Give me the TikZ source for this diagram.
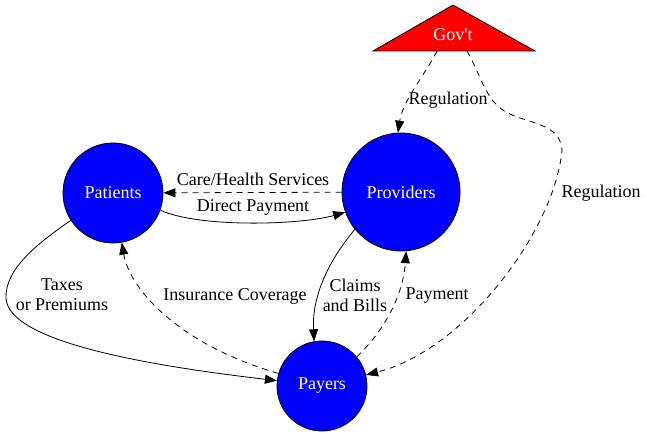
\documentclass[tikz,border=0pt]{standalone}
\usepackage{fontspec}
\setmainfont{Liberation Serif}
\usetikzlibrary{arrows.meta}

\begin{document}
\begin{tikzpicture}[x=1pt, y=-1pt, >={Triangle[length=12pt,width=9pt]},
  every node/.style={font=\rmfamily\fontsize{18}{20}\selectfont},
  party/.style={circle, draw=black, fill=blue, text=white, line width=0.8pt, inner sep=0pt},
  flow/.style={->, line width=0.8pt},
  soft/.style={->, line width=0.8pt, dash pattern=on 6pt off 5pt},
  lbl/.style={align=center, inner sep=0pt}]
  \useasboundingbox (0,0) rectangle (647,438);

  % Government
  \filldraw[fill=red, draw=black, line width=0.8pt] (453,5) -- (535,51) -- (373,51) -- cycle;
  \node[text=white] (gov) at (453,35) {Gov\textquotesingle t};
  \coordinate (govA) at (437,51);
  \coordinate (govB) at (467,51);

  % Parties
  \node[party, minimum size=100pt] (pat) at (113,193) {Patients};
  \node[party, minimum size=118pt] (prov) at (401,192) {Providers};
  \node[party, minimum size=90pt] (pay) at (322,386) {Payers};

  % Regulation
  \draw[soft] (govA) .. controls (425,75) and (403,100) .. (prov.93);
  \node[lbl] (reg1) at (448,100) {Regulation};
  \draw[soft] (govB) .. controls (478,70) and (485,95) .. (497,105)
    .. controls (515,125) and (560,118) .. (562,150)
    .. controls (555,230) and (465,350) .. (pay);
  \node[lbl] (reg2) at (601,193) {Regulation};

  % Patients and providers
  \draw[soft] (prov) -- (pat);
  \node[lbl] (care) at (253,179) {Care/Health Services};
  \draw[flow] (pat.-20) .. controls (200,228) and (300,225) .. (prov.-160);
  \node[lbl] (direct) at (253,207) {Direct Payment};

  % Patients and payers
  \draw[flow] (pat.213) .. controls (35,245) and (5,270) .. (6,298)
    .. controls (8,345) and (170,368) .. (pay);
  \node[lbl] (taxes) at (62,295) {Taxes\\or Premiums};
  \draw[soft] (pay) .. controls (180,345) and (130,290) .. (pat);
  \node[lbl] (cover) at (235,296) {Insurance Coverage};

  % Providers and payers
  \draw[flow] (prov.-141) .. controls (325,265) and (312,300) .. (pay.100);
  \node[lbl] (claims) at (355,295) {Claims\\and Bills};
  \draw[soft] (pay.40) .. controls (385,330) and (403,295) .. (prov.-85);
  \node[lbl] (paym) at (437,296) {Payment};
\end{tikzpicture}
\end{document}
